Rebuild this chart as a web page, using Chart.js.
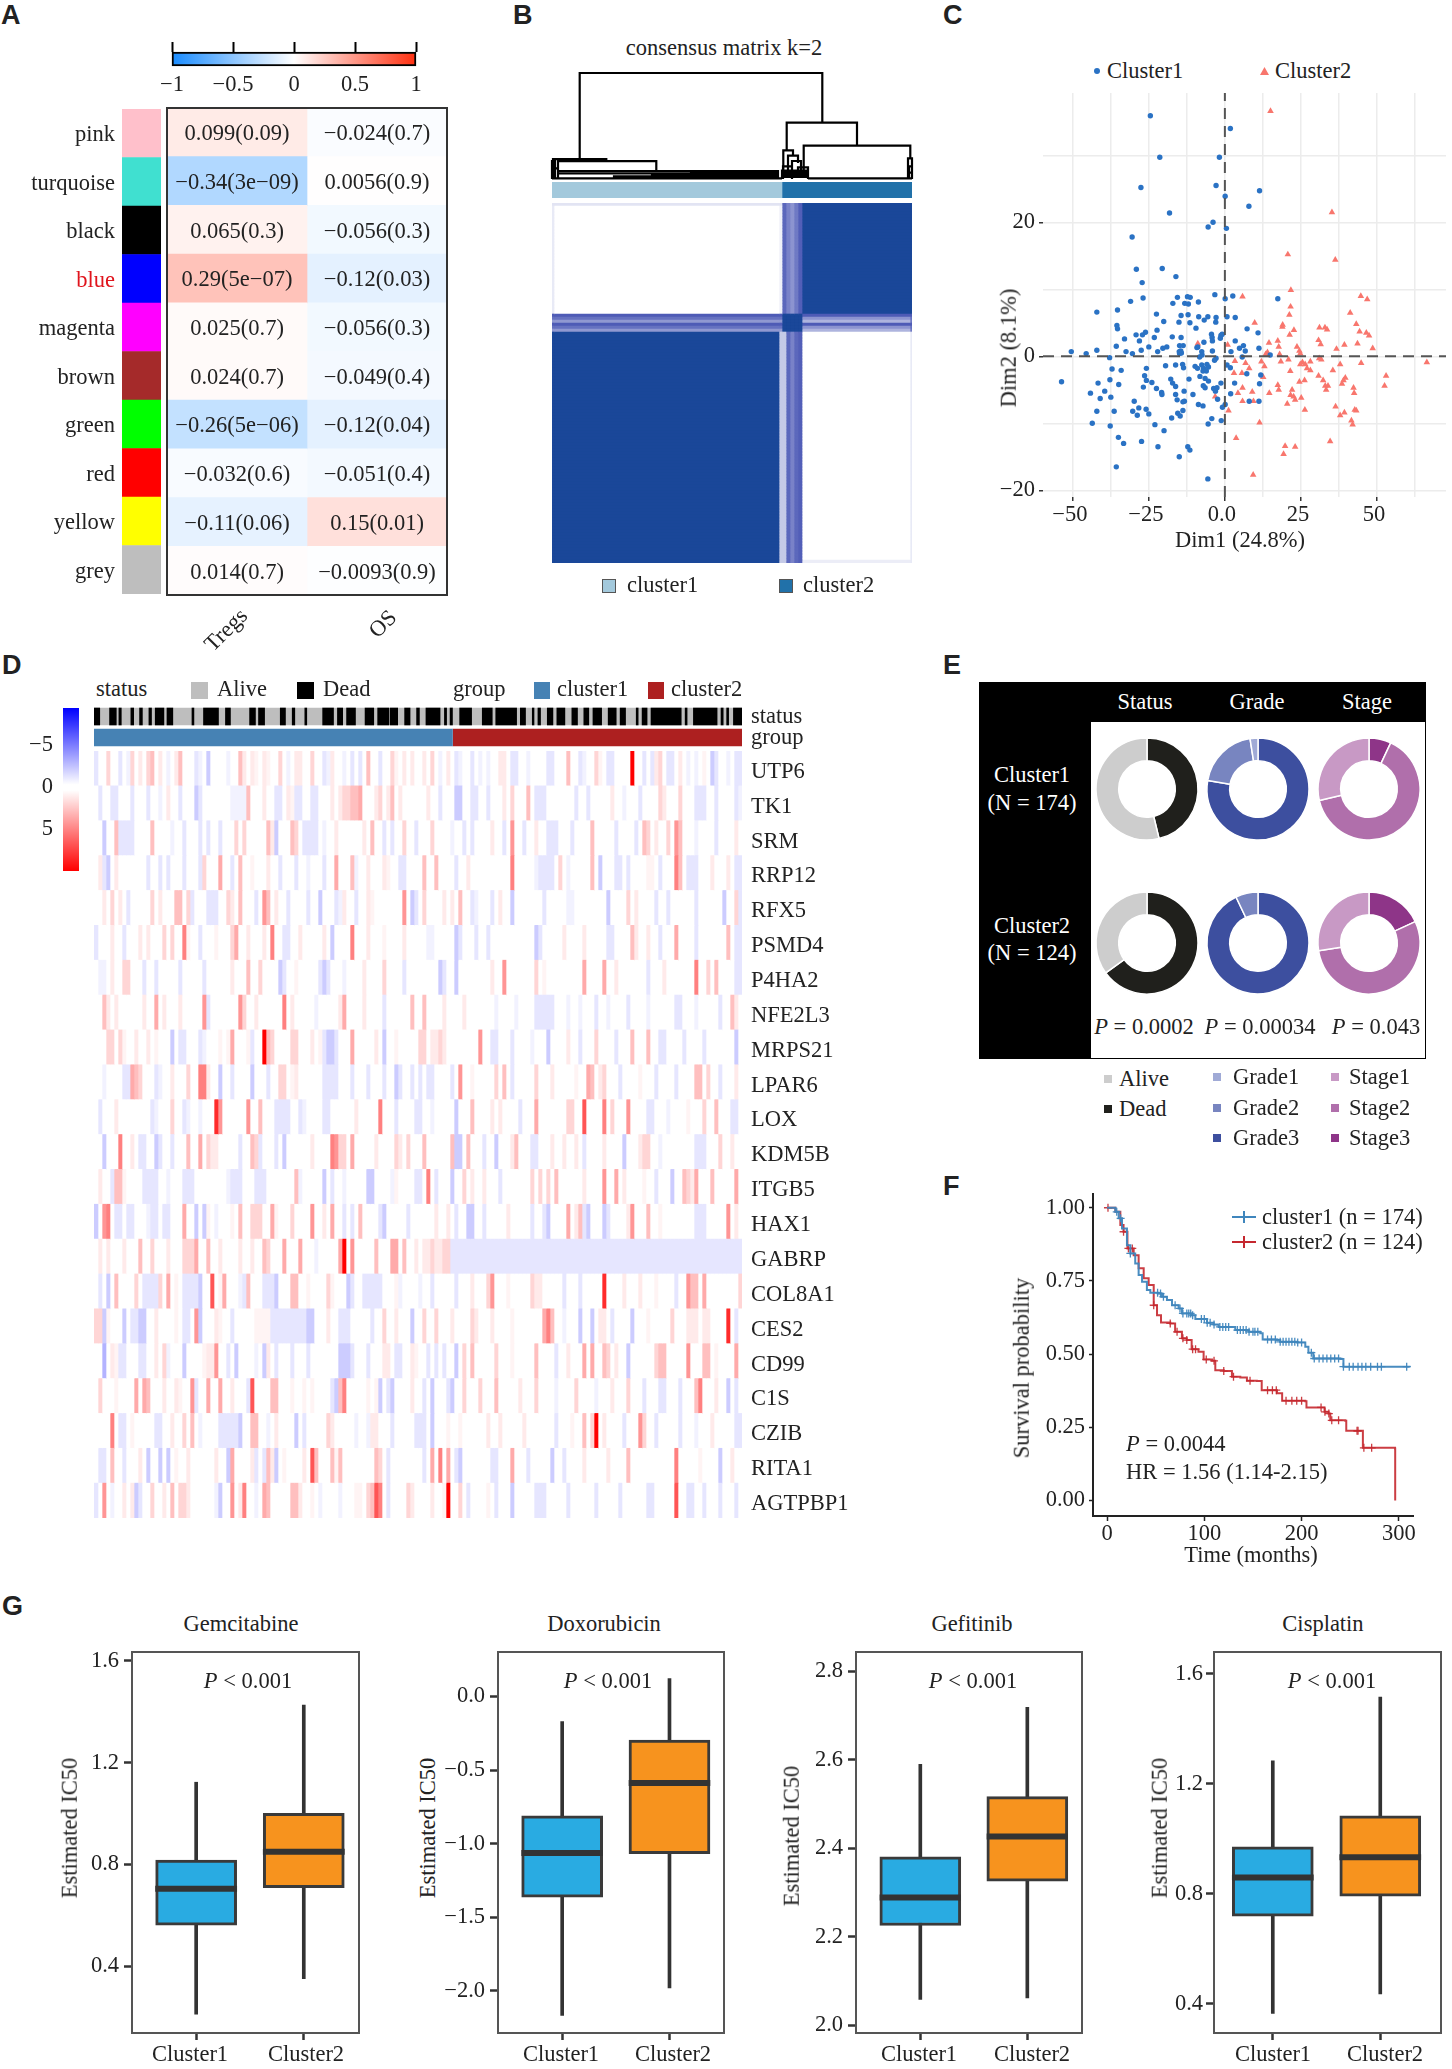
<!DOCTYPE html>
<html>
<head>
<meta charset="utf-8">
<title>Cluster figure</title>
<script src="https://cdn.jsdelivr.net/npm/chart.js@4"></script>
<style>
html,body{margin:0;background:#fff}
#page{position:relative;width:1452px;height:2069px;overflow:hidden;font-family:"Liberation Serif",serif;color:#222}
#page canvas{position:absolute}
.t{position:absolute;white-space:nowrap;line-height:1;font-size:22.5px}
.b{position:absolute}
</style>
</head>
<body>
<div id="page"></div>
<script>
// A: module-trait table
const modules = ["pink","turquoise","black","blue","magenta","brown","green","red","yellow","grey"];
const moduleColors = ["#ffc0cb","#40e0d0","#000000","#0000ff","#ff00ff","#a52a2a","#00ff00","#ff0000","#ffff00","#bebebe"];
const tregsCor = [0.099,-0.34,0.065,0.29,0.025,0.024,-0.26,-0.032,-0.11,0.014];
const osCor = [-0.024,0.0056,-0.056,-0.12,-0.056,-0.049,-0.12,-0.051,0.15,-0.0093];
const tregsText = ["0.099(0.09)","−0.34(3e−09)","0.065(0.3)","0.29(5e−07)","0.025(0.7)","0.024(0.7)","−0.26(5e−06)","−0.032(0.6)","−0.11(0.06)","0.014(0.7)"];
const osText = ["−0.024(0.7)","0.0056(0.9)","−0.056(0.3)","−0.12(0.03)","−0.056(0.3)","−0.049(0.4)","−0.12(0.04)","−0.051(0.4)","0.15(0.01)","−0.0093(0.9)"];
const corTicks = [-1,-0.5,0,0.5,1];

// B: consensus matrix (x in ordered samples, one row = 3 samples)
const consensusColWidths = [2,225,3,4,4,4,4,4,108,2];
const consensusTopEdge = [.15,.15,.15,.85,.7,.6,.75,.9,1,1];
const consensusTop = [.12,0,.08,.85,.7,.6,.75,.9,1,1];
const consensusBandDark = [.92,.92,.92,1,1,1,1,1,.92,.92];
const consensusBandMid = [.8,.8,.8,1,1,1,1,1,.6,.8];
const consensusBandPale = [.58,.58,.58,1,1,1,1,1,.42,.75];
const consensusBottom = [1,1,.3,.3,.85,.7,.85,.9,0,.12];
const consensusBottomEdge = [1,1,.3,.3,.85,.7,.85,.9,.1,.12];
const consensusRowRuns = [[consensusTopEdge,1],[consensusTop,36],[consensusBandDark,1],[consensusBandMid,1],[consensusBandPale,1],[consensusBandDark,1],[consensusBandMid,1],[consensusBandPale,1],[consensusBottom,76],[consensusBottomEdge,1]];
const consensusGroupWidths = [230,130];
// dendrogram joins: left x, right x, join height, left foot, right foot
const dendroJoins = [
  [27.7,270.3,1,.187,.532],[234.7,305,.532,.27,.315],[251.7,358.3,.315,.04,.195],[356,360,.195,.01,.01],
  [1,54.3,.187,.01,.18],[6,104.3,.169,.05,.075],[6,226,.075,.02,.01],[6,139,.052,.01,.03],[139,226,.06,.03,.01],
  [100,226,.045,.02,.02],[0,3,.17,0,0],[0,6,.1,0,0],[0,230,.006,0,0],[62,226,.025,0,0],
  [231.3,241,.27,.05,.22],[236,246,.22,.05,.15],[240,249,.17,.05,.09],[246,256,.11,.03,.03],[231,240,.12,0,0],
  [230,256,.08,0,0],[230,256,.06,0,0],[230,256,.04,0,0],[230,256,.02,0,0],[256,360,.006,0,0],[357,360,.12,0,0],[357,360,.06,0,0]
];

// C: PCA points, Dim1 / Dim2
const cluster1Points = [[-24.5,35.9],[1.8,34],[-21.4,29.7],[-1.8,29.7],[-27.6,25.2],[-2.9,25.5],[0.1,23.9],[11.4,24.7],[7.9,22.4],[-18.2,21.4],[-3.9,20],[-5.5,19.3],[0.5,19.1],[-30.5,17.8],[-29.1,13],[-20.6,13.1],[-16.1,11.9],[-27.2,11],[-31,8.2],[-26.9,8.7],[-15.6,8.8],[-12.3,8.9],[-11.4,8.8],[-8.7,8.1],[-3.3,9.2],[0.1,8.6],[2.6,9],[17.4,8.6],[-17.1,7.9],[-13.2,7.9],[-12,7.8],[-42.1,6.6],[-35.3,6.9],[-22.5,6.3],[-14.4,6.1],[-12.1,6.2],[-8.6,5.9],[-5.6,5.9],[-2.9,5.8],[0.7,5.9],[3.4,5.8],[-20.1,5.2],[-15.1,5.1],[-11.5,5],[-6.8,5.4],[-3,5.1],[-35.5,4.6],[-35.3,4.1],[-22.3,3.9],[-9.5,4.2],[7.3,4.1],[10.9,3.5],[-26.1,3.6],[-29.2,3.2],[-27.1,3.2],[-23.2,2.8],[-17.3,2.9],[-14.4,2.8],[-33,2.6],[-28.1,2.3],[-4.4,3.3],[-4.2,2.8],[-1.3,3.1],[-0.9,3.3],[-1.5,2.7],[-6.9,2.1],[-4.1,2.3],[3.4,2.3],[-8.9,1.4],[-35.7,1.5],[-25,1.4],[-19.1,1.4],[-20.4,1.2],[-14.9,1.6],[-13.7,1.6],[6.1,1.6],[4.8,1.2],[-9.2,1.3],[11.2,1.2],[-42.1,0.9],[-50.5,0.7],[-27.5,0.9],[-32.5,0.7],[-30.4,0.4],[-22.1,0.7],[-14.7,0.6],[-14.5,0.8],[-14.9,0.4],[-14.3,0.5],[-15,0.7],[-7.6,0.7],[-4.1,0.8],[-7.5,0.2],[2,0.7],[6.7,0.8],[-45.6,0.4],[-37.9,-0.2],[-8.3,-0.1],[-2.9,-0.3],[14.9,0.2],[5.7,-0.1],[-3.4,-0.6],[-37.1,-1.9],[-34.1,-2.1],[-25.8,-1.8],[-19.5,-1.4],[-16.2,-1.3],[-13.9,-1.2],[-13.6,-1.7],[-9.8,-1.5],[-9,-1.8],[-7.6,-1.3],[-7,-1.8],[-5.9,-1.2],[-5.4,-1.6],[-6.1,-2.2],[-7.2,-2.2],[0.7,-1.3],[1.8,-1.7],[7.2,-2.6],[11.8,-2.8],[-26.4,-2.9],[-37.8,-3.5],[-41.7,-4],[-53.7,-3.8],[-34.9,-4.2],[-25.8,-3.6],[-24,-3.9],[-17.8,-3.4],[-17.2,-4],[-11.8,-3.4],[-8.2,-3],[-6.5,-3.3],[-5.4,-3.7],[-7.1,-4.4],[-6.5,-4.7],[-1.3,-4],[3.2,-4],[11.4,-4.1],[-26.8,-4.6],[-22.5,-4.8],[-20.8,-5.4],[-20.7,-5.7],[-16.2,-4.5],[-13.4,-5.2],[-16.2,-5.7],[-10.5,-5.7],[-3.7,-4.8],[-2.6,-4.7],[-3.1,-5.2],[1.9,-5.6],[-39.5,-5.2],[-44.2,-5.5],[-41,-6.3],[-37.5,-6.1],[-29.8,-6.7],[-15.7,-6.5],[-13.8,-6.8],[-13.3,-6.7],[-2.4,-6.4],[8,-6.7],[11.2,-6.7],[-42.1,-8.2],[-36.4,-8.2],[-28.3,-7.7],[-30.3,-8.2],[-25.9,-7.9],[-25,-8.6],[-28.8,-8.8],[-8.7,-7.2],[-7.2,-7.4],[0.1,-7.2],[-0.8,-7.6],[-13.8,-8.1],[-15.5,-8.5],[-14.7,-8.9],[-17.5,-9.2],[-4.3,-9.3],[-1.2,-9.6],[-5.5,-10.1],[-43.6,-10],[-37.7,-10.4],[-23,-10.2],[-20,-11.1],[-35,-12.1],[-27.4,-12.7],[-33.3,-13],[-22,-13.5],[-12.2,-13.5],[-11.5,-14],[-15,-15],[-35.7,-16.5],[-5.6,-18.3]];
const cluster2Points = [[15,36.6],[35.2,21.5],[20.7,15.2],[36.3,14.4],[21.7,9.9],[5.8,8.9],[44.7,9],[46.8,8.5],[21.6,7.4],[21.2,6.2],[41.2,6.5],[9.8,5],[19,4.7],[18.9,4.4],[43.2,4.8],[31.1,4.3],[32.9,4.3],[33.6,4],[22.7,3.9],[44.3,3.7],[46.5,3.5],[47.4,3.1],[21.3,3.2],[30.8,2.4],[31.5,1.8],[17.4,2.3],[14.5,2],[43.6,1.9],[39.3,1.7],[-8.9,1.9],[0.9,1.7],[17.7,1.4],[23.7,1.4],[36.7,1.1],[48.6,1.2],[24.5,0.8],[24.8,0.4],[14,0.6],[13.4,0.3],[18,0.3],[31,-0.3],[31.7,-0.5],[20.9,-0.5],[18.4,-0.8],[66.4,-0.9],[44.8,-1],[3.3,-0.7],[12,-0.8],[6.8,-1],[25.5,-0.9],[24.8,-1.2],[26.4,-1.2],[28.1,-0.8],[37.9,-1.2],[13,-1.5],[8,-1.8],[27,-1.8],[28.1,-2.1],[35.5,-2.1],[21.5,-2.2],[3,-2.5],[5.6,-2.5],[12.6,-3.1],[30.8,-2.9],[32.3,-3.6],[53,-2.9],[39.6,-3.2],[39,-3.6],[24.5,-3.8],[26.2,-3.6],[38.5,-4.1],[33,-4.4],[33.9,-4.4],[33.3,-5],[52.5,-4.4],[5.8,-4.7],[17.4,-4.3],[17.7,-5],[22.1,-5],[42.3,-4.7],[42.5,-5.5],[9,-5.3],[4.3,-5.5],[14.6,-5.5],[21.6,-5.8],[22.6,-6],[25.1,-6.2],[23.1,-6.5],[-3.2,-6],[5.8,-6.7],[9.4,-6.7],[20.5,-7.1],[36.4,-7.5],[26.3,-8],[42.7,-8],[43.2,-8.1],[1.2,-8.1],[39.3,-8.4],[37.9,-8.8],[41.6,-9.6],[42,-10.2],[11.4,-9.9],[3.7,-12.2],[34.6,-12.7],[19.8,-13.4],[23.1,-13.5],[19.3,-14.6],[9.3,-17.7]];
const dim1Ticks = [-50,-37.5,-25,-12.5,0,12.5,25,37.5,50,62.5];
const dim2Ticks = [30,20,10,0,-10,-20];

// D: heatmap, rows as (column, value) pairs; cells not listed read as 0
const genes = ["UTP6","TK1","SRM","RRP12","RFX5","PSMD4","P4HA2","NFE2L3","MRPS21","LPAR6","LOX","KDM5B","ITGB5","HAX1","GABRP","COL8A1","CES2","CD99","C1S","CZIB","RITA1","AGTPBP1"];
const heatUTP6 = [0,-1,3,2,6,-1,8,-.5,9,2,11,1,13,2,14,3,16,1,18,-.5,20,1,21,3,25,-1,26,-.5,28,-2,33,-.5,36,3,37,1,39,1,40,.5,42,1,43,.5,46,2,48,-.5,50,1,51,1,54,2,57,-1,58,-.5,59,1,62,-.5,64,-1,66,-1,68,3,71,-1,74,2,75,.5,77,1,79,1,82,1,84,2,86,-.5,88,1,90,-1,91,-.5,94,-1,96,-.5,98,-.5,101,1,102,1,104,-1,105,-1,108,-.5,113,-1,114,-1,118,3,121,-1,122,-.5,125,2,126,.5,128,-1,129,-1,134,9,137,-1,139,-1,140,1,141,2,143,-1,144,-1,146,1,148,-.5,150,-.5,152,.5,154,-2,155,-1,158,-.5,160,-1,161,-1];
const heatTK1 = [1,-1,4,-1,5,-1,9,-1,13,-1,16,-.5,18,1,21,-1,25,-2,26,-1,34,-.5,35,-.5,36,-.5,37,-.5,38,3,42,1,45,-1,46,-1,48,1,49,.5,50,-1,51,-1,54,-1,55,-1,59,1,61,1,62,2,63,2,64,3,65,3,66,4,70,1,71,2,73,1,74,3,76,1,83,1,86,-1,90,-2,91,-2,94,-1,95,-1,98,-1,102,1,104,2,108,3,110,-1,111,-1,112,-1,120,-1,123,-1,129,1,132,-.5,136,-1,141,2,142,1,146,2,150,-1,151,-1,152,-1,155,-1,160,-1,161,-.5];
const heatSRM = [2,-2,5,3,6,-1,7,-1,8,-1,9,-1,14,3,19,-.5,22,-1,26,-1,28,-1,31,-1,35,2,37,2,43,3,44,1,45,-2,49,3,50,2,52,-1,53,-1,54,-1,55,-1,57,-.5,60,1,67,1,69,3,72,-1,74,-1,77,2,80,-1,84,2,89,-.5,92,-1,94,-1,99,1,102,-1,104,5,107,-1,110,1,113,-1,114,-1,115,-1,119,-1,124,3,130,-1,135,-1,137,3,138,2,140,1,143,2,145,5,146,3,150,-.5,155,-1,160,1];
const heatRRP12 = [1,1,2,-1,3,-2,5,1,13,-1,16,-1,18,-1,22,-1,26,-1,27,2,31,4,34,-1,36,3,39,.5,43,1,46,-1,50,-1,53,-.5,57,-1,60,4,64,3,65,-.5,68,1,72,1,73,.5,76,-1,77,-1,82,3,85,3,90,-1,93,1,104,6,110,-.5,111,-1,112,-1,113,-1,114,-1,116,2,118,-.5,124,3,126,-2,130,-1,131,-1,133,-1,138,.5,139,.5,141,-1,145,6,146,3,148,-1,149,-1,150,-1,154,1,158,1,160,-1,161,-1];
const heatRFX5 = [2,1,4,2,6,1,8,-1,14,2,16,1,20,3,21,3,23,2,24,-1,28,-1,29,-1,30,-1,33,2,34,1,36,3,40,-1,42,5,43,3,45,1,48,-1,53,-1,56,-2,60,-1,61,-.5,62,1,65,-1,68,1,69,.5,77,5,79,-2,80,-1,82,2,87,1,89,1,91,3,94,-1,95,-.5,99,-1,101,1,104,-2,112,-1,118,-.5,119,-.5,128,-2,133,2,135,1,140,-1,143,-1,150,-1,157,-2,160,2,161,-1];
const heatPSMD4 = [0,-1,4,1,7,-1,11,1,13,1,17,2,19,2,22,6,23,.5,26,-1,30,.5,34,2,35,4,38,1,42,1,44,6,47,-1,48,-1,51,1,57,1,59,-2,64,6,68,1,72,.5,77,1,83,-.5,84,-.5,90,-2,91,-1,95,-1,98,-1,110,-2,111,-1,117,1,122,1,128,-1,129,-1,134,3,135,1,138,1,141,-1,145,4,150,-1,158,3,160,-1,161,-1];
const heatP4HA2 = [1,-.5,2,-.5,4,1,7,2,8,2,12,-1,15,-1,21,-1,27,-1,34,1,38,3,41,2,46,-2,47,-1,50,.5,56,-1,57,-2,58,-1,62,-.5,67,1,72,2,77,-1,86,-2,87,-1,90,-2,99,1,102,5,110,2,112,.5,122,4,127,4,130,1,138,-1,142,1,150,6,153,2,155,3,160,-1,161,-1];
const heatNFE2L3 = [2,3,3,1,5,1,12,1,15,4,17,1,21,1,27,5,28,-1,36,5,37,2,40,1,47,6,49,1,55,-.5,61,1,62,4,67,1,72,-1,79,3,82,3,87,1,92,1,100,-.5,105,-.5,110,-1,111,-1,112,-1,113,-1,114,-1,118,-.5,121,-.5,125,-1,128,-.5,133,-1,138,-.5,145,-1,146,-1,150,-.5,156,-1,159,3,160,1];
const heatMRPS21 = [3,2,4,2,6,2,7,.5,10,1,13,1,15,.5,19,-2,21,-1,22,-1,26,-1,27,-.5,31,.5,33,.5,34,4,38,.5,39,-1,42,9,43,3,44,2,49,2,50,2,54,1,56,.5,57,-1,58,-2,59,-2,60,-1,64,4,70,1,72,-2,75,.5,81,2,82,2,84,1,85,1,86,2,87,1,96,5,99,-1,100,-1,104,-1,109,-.5,113,-2,118,1,121,-1,125,2,130,-1,134,3,138,3,141,-1,142,-1,147,-1,152,-1,160,-2];
const heatLPAR6 = [2,-.5,7,-1,8,-1,9,4,10,3,11,2,15,-1,16,-.5,19,1,23,2,26,6,27,6,28,1,31,-2,34,-1,39,-2,43,-1,46,2,47,2,49,.5,50,1,57,-1,58,-1,59,-1,60,-1,64,-1,68,-1,72,-1,75,-2,76,-1,79,-1,81,-1,83,-1,84,-1,89,-1,91,5,94,.5,100,2,102,3,104,-1,110,2,114,1,120,.5,123,4,124,3,126,1,127,2,131,-1,136,.5,140,-1,145,-1,150,3,151,3,153,2,156,-1,160,1];
const heatLOX = [1,-1,5,1,14,-1,15,-.5,19,2,22,-1,23,-.5,26,-.5,30,8,31,5,38,5,41,3,45,-1,46,-1,47,-1,48,-1,51,-1,52,-.5,57,-1,58,-1,65,1,71,6,75,-1,80,-1,81,-1,84,-.5,90,-2,94,3,99,1,101,1,106,-1,110,4,118,2,119,2,122,7,127,6,129,2,133,5,138,-1,139,-1,143,-.5,148,.5,152,2,155,3,159,-1,160,-1];
const heatKDM5B = [2,-2,6,6,9,1,11,-1,12,-1,15,-2,16,-1,19,-1,23,3,26,4,28,2,29,1,30,1,36,-1,39,3,40,2,41,-1,45,-1,47,-2,54,1,59,6,60,5,61,2,62,2,64,4,70,1,75,2,76,1,78,2,82,3,89,3,90,-2,91,-2,93,3,97,-1,100,-2,104,1,105,3,109,-1,110,-1,114,1,117,1,120,1,122,-1,127,1,132,-2,136,1,137,2,138,2,141,-.5,150,-1,151,-1,152,-1,156,2,159,1];
const heatITGB5 = [1,1,4,-1,5,3,6,3,7,.5,12,-1,13,-1,14,-1,15,-1,18,-.5,22,-1,23,-1,24,-1,33,-.5,34,-1,35,-1,36,-1,40,-1,41,-1,42,-1,50,3,51,-.5,57,-2,59,-1,62,-.5,68,-2,69,-2,74,-.5,75,.5,80,-1,81,-1,83,6,85,-1,89,-2,92,2,94,1,97,1,101,-1,109,2,111,2,113,2,115,3,122,1,127,5,130,4,132,1,137,.5,140,-1,144,-2,147,3,148,2,149,1,150,4,154,3,160,4];
const heatHAX1 = [0,-2,2,5,3,6,5,-1,6,-1,8,-1,9,-1,13,-.5,14,-1,15,-1,17,-1,18,-1,22,4,25,-2,27,-2,28,.5,30,-.5,34,.5,36,3,39,2,40,2,41,2,44,4,45,.5,49,2,54,5,57,1,59,4,62,-1,64,-1,66,3,71,-1,72,-2,78,-1,85,1,88,1,90,-1,93,-2,94,-2,97,-1,103,1,109,-1,112,-1,113,-2,118,4,120,1,121,3,122,-1,123,-2,127,-2,128,-1,133,1,134,5,138,3,141,.5,150,-1,151,-1,152,-1,158,5,160,1];
const heatGABRP = [1,1,3,1,7,1,11,3,14,2,18,1,22,2,23,2,24,2,25,4,28,3,31,1,36,1,39,1,42,3,43,2,47,4,51,4,55,-.5,61,4,62,9,64,5,70,3,74,4,75,4,77,3,80,1,82,1,83,1,84,2,85,1,86,1,87,2,88,2];
const heatCOL8A1 = [1,-1,3,-2,5,3,10,2,12,-1,13,-1,14,-1,15,-1,16,2,18,4,20,.5,22,-1,23,-1,24,-1,25,-1,26,-2,29,7,31,.5,32,4,36,-.5,37,-1,38,3,42,-1,43,-1,44,-1,45,-2,49,3,50,3,53,.5,58,2,59,.5,63,-2,64,-1,67,-1,68,-1,69,-1,70,-1,71,-1,75,.5,76,-.5,81,-.5,84,-1,90,-1,94,1,98,2,99,5,103,.5,109,2,110,1,111,1,117,-1,121,-1,127,8,132,1,136,1,140,.5,145,-1,148,5,149,3,150,3,152,4,161,2];
const heatCES2 = [0,2,1,2,2,-2,3,.5,7,-2,9,-1,10,-1,11,-2,12,-2,15,1,20,.5,22,-1,23,-1,25,5,26,-2,30,1,31,.5,34,-1,40,.5,41,.5,42,.5,43,.5,44,-1,45,-1,46,-1,47,-1,48,-1,49,-1,50,-1,51,-1,52,-1,53,-2,54,-2,58,1,61,-1,62,-1,63,-1,69,-1,72,2,75,1,79,-2,82,2,85,2,89,1,94,2,95,1,99,1,104,.5,112,4,113,6,114,3,117,-.5,121,-2,124,-2,126,1,127,1,129,-1,134,-2,138,.5,144,2,148,1,149,1,150,1,152,1,153,1,158,8,160,-1];
const heatCD99 = [2,-3,4,1,5,.5,6,-1,7,-1,11,-1,12,-1,15,1,17,2,18,-.5,22,-2,27,.5,28,1,29,1,30,5,33,-1,35,-2,40,-.5,42,-2,43,1,45,-1,49,-1,53,-1,61,-2,62,-2,63,-2,64,-1,68,-1,72,1,73,1,75,-1,76,-1,79,1,80,.5,83,-1,85,-1,87,-1,90,-2,92,2,94,3,100,2,104,.5,110,3,115,-1,118,1,122,4,124,4,127,3,128,2,130,1,133,-2,140,2,141,3,142,3,148,5,152,3,153,3,155,.5,160,4];
const heatC1S = [1,2,5,.5,10,4,12,4,13,3,17,1,20,1,21,.5,24,5,25,-1,28,4,31,4,34,1,38,-1,39,7,44,3,45,3,49,.5,52,.5,54,.5,59,-1,60,-2,61,3,62,6,68,.5,70,.5,71,-2,73,-1,74,-2,79,1,82,-1,84,-2,88,-1,89,-2,92,2,96,2,100,3,106,1,110,2,115,-.5,120,2,125,-.5,129,1,133,2,137,-1,141,-1,142,-1,146,-1,150,3,151,6,155,1,158,-2,160,-1];
const heatCZIB = [4,6,6,-1,7,-1,9,.5,15,-1,16,-1,19,1,22,2,24,3,26,-.5,31,-1,32,-1,33,-1,34,-1,35,-1,36,-2,39,3,40,3,43,-.5,45,1,50,-2,52,-1,58,2,59,1,65,-.5,68,-.5,69,1,70,1,74,-1,80,-1,81,-1,82,-1,84,-2,88,.5,91,.5,98,1,101,1,107,1,115,-1,119,.5,122,3,124,2,125,9,127,1,132,-1,136,5,137,2,140,-1,146,-1,150,-.5,154,1,160,-1,161,-1];
const heatRITA1 = [1,-1,2,-1,4,3,7,-1,11,1,13,-2,16,-2,18,-2,20,.5,23,1,30,1,33,-2,34,4,39,1,40,-1,42,-1,43,3,44,1,45,-2,47,.5,52,1,54,7,55,3,59,3,60,.5,61,3,70,3,71,2,73,-1,82,-1,84,4,86,6,88,4,90,-1,91,-2,99,-1,100,-1,104,4,108,-1,114,-2,117,-1,122,1,128,1,133,3,145,6,151,.5,156,-2,159,1];
const heatAGTPBP1 = [0,-1,2,5,4,-.5,7,1,9,1,10,-2,11,-1,14,2,17,1,19,3,21,2,22,2,23,1,30,-.5,31,-2,34,5,36,1,37,6,40,-.5,42,4,43,3,49,3,50,3,51,1,54,.5,56,-.5,61,-.5,65,.5,66,.5,68,2,69,3,70,7,71,6,73,-1,78,2,79,1,84,1,87,.5,88,9,91,2,93,-1,98,.5,100,-1,104,-2,110,-1,111,-1,112,-1,118,-1,125,-1,131,-1,138,-1,139,-1,145,7,148,-1,149,-1,152,-1,156,-1,160,-1];
const heatRows = [heatUTP6,heatTK1,heatSRM,heatRRP12,heatRFX5,heatPSMD4,heatP4HA2,heatNFE2L3,heatMRPS21,heatLPAR6,heatLOX,heatKDM5B,heatITGB5,heatHAX1,heatGABRP,heatCOL8A1,heatCES2,heatCD99,heatC1S,heatCZIB,heatRITA1,heatAGTPBP1];
const heatColumns = 162;
// GABRP reads as one flat pale value across cluster2: row, from, to, value
const heatFlatRuns = [[14,89,162,-1]];
const sampleCount = 298;
const clusterSplit = 165;
const deadRuns = [[0,2.8],[7,10.4],[11.3,12.7],[16.8,18.4],[20.8,22.4],[25.1,26.6],[28,32.3],[33.4,36.4],[44.9,46.1],[50.2,57.4],[60.3,62.9],[71.4,74.4],[75.5,78.6],[85.5,88.2],[91,92.5],[96.8,98],[105,110.3],[111.8,114.5],[116,120.4],[124.5,128.8],[130.3,135.7],[136,139.8],[142.7,145.5],[148.2,149.8],[152.5,159.3],[161,162.3],[163.6,165],[168,173.8],[178.4,183.3],[184.6,194.5],[195.9,198.6],[201.4,202.5],[204,205.5],[208.3,211.2],[212.7,216.7],[219.6,222.5],[225.1,227.7],[229.3,233.6],[236.3,240.3],[241.8,244.6],[249.2,250.4],[251.9,254.5],[256,270.2],[271.7,272.9],[275.5,286.7],[288.2,289.5],[290.8,292],[293.9,298]];
const heatLegendTicks = [-5,0,5];

// E: donut shares in percent, clockwise from the top
const statusC1 = [46.2,53.8], statusC2 = [65,35];
const gradeC1 = [77.7,19.8,2.5], gradeC2 = [92.9,7.1,0];
const stageC1 = [7,64.4,28.6], stageC2 = [18.1,54.5,27.4];
const statusColors = ["#20201c","#cdcdcd"];
const gradeColors = ["#3d4f9f","#7885c0","#a0aad6"];
const stageColors = ["#8e3588","#b06fab","#c899c5"];

// F: survival curves
const c1Time = [0,8.6,12,15.4,20.5,24,29,32.5,36,41,44.5,53,56.5,61.6,66.8,73.6,77,87,90.8,97.6,102.7,109.6,114.7,125,131.8,145.5,157.5,160,174.7,178,195,203.8,207,212,239.7,243,311];
const c1Surv = [1,.986,.964,.929,.872,.844,.81,.77,.747,.719,.71,.707,.696,.685,.667,.656,.639,.633,.62,.62,.607,.601,.593,.593,.582,.576,.571,.55,.548,.542,.54,.525,.505,.485,.483,.457,.455];
const c2Time = [0,8.6,13.7,17,21,27.4,32.5,37.7,42.8,48,51.4,55.5,65,70,77,82,87,94,99.3,108,111.3,120,128.4,137,143.8,154,159,174.7,180,203.8,205,219,223.6,227.7,229.5,244.9,245.9,262,263,296,296.2];
const c2Surv = [1,.986,.941,.918,.861,.838,.793,.759,.736,.667,.633,.608,.605,.576,.554,.548,.517,.508,.482,.477,.445,.442,.423,.42,.409,.408,.377,.366,.341,.339,.318,.318,.303,.297,.274,.272,.238,.238,.18,.178,0];
const c1Censor = [10,14,24,52,55,58,70,75,78,82,84,86,88,97,100,103,106,110,116,119,122,125,134,137,140,143,146,150,152,155,165,169,173,178,181,184,187,190,193,196,200,210,213,218,222,226,230,234,238,243,249,253,258,262,266,271,278,282,308];
const c2Censor = [1,17,22,26,48,65,72,78,82,88,91,102,110,120,130,147,165,170,174,184,190,195,200,220,224,228,231,238,257,258,264,272];
const timeTicks = [0,100,200,300];
const survTicks = [0,.25,.5,.75,1];

// G: drug boxes, [Cluster1, Cluster2]
const drugs = ["Gemcitabine","Doxorubicin","Gefitinib","Cisplatin"];
const boxLabels = ["Cluster1","Cluster2"];
const drugLow = [[.211,.351],[-2.166,-1.98],[2.059,2.062],[.365,.436]];
const drugQ1 = [[.561,.708],[-1.363,-1.068],[2.226,2.326],[.719,.792]];
const drugMedian = [[.704,.85],[-1.063,-.587],[2.289,2.427],[.86,.933]];
const drugQ3 = [[.817,1.001],[-.81,-.297],[2.381,2.517],[.971,1.084]];
const drugHigh = [[1.123,1.426],[-.17,.122],[2.59,2.719],[1.284,1.516]];
const drugTicks = [[.4,.8,1.2,1.6],[-2,-1.5,-1,-.5,0],[2,2.2,2.4,2.6,2.8],[.4,.8,1.2,1.6]];
const drugRange = [[.137,1.635],[-2.286,.302],[1.983,2.844],[.294,1.68]];

// page helpers
const page = document.getElementById("page");
Chart.defaults.animation = false;
Chart.defaults.events = [];
Chart.defaults.font.family = '"Liberation Serif", serif';
Chart.defaults.font.size = 22.5;
Chart.defaults.color = "#222";
Chart.defaults.plugins.legend.display = false;
Chart.defaults.plugins.tooltip.enabled = false;

function text(x, y, html, o={}){
  const d = document.createElement("div");
  d.className = "t";
  d.innerHTML = html;
  const tx = o.align==="l" ? "0" : o.align==="r" ? "-100%" : "-50%";
  d.style.left = x+"px";
  d.style.top = y+"px";
  d.style.transform = `translate(${tx},-50%)` + (o.rot ? ` rotate(${o.rot}deg)` : "");
  if(o.color) d.style.color = o.color;
  if(o.css) d.style.cssText += o.css;
  page.appendChild(d);
}
function rect(x, y, w, h, color, css=""){
  const d = document.createElement("div");
  d.className = "b";
  d.style.cssText = `left:${x}px;top:${y}px;width:${w}px;height:${h}px;background:${color};${css}`;
  page.appendChild(d);
}
// plot = [x0,y0,x1,y1] of the chart area, m = [left,top,right,bottom] room around it
function mk(plot, m, config){
  const [x0,y0,x1,y1] = plot, [l,t,r,b] = m;
  const c = document.createElement("canvas");
  c.width = x1-x0+l+r;
  c.height = y1-y0+t+b;
  c.style.left = (x0-l)+"px";
  c.style.top = (y0-t)+"px";
  page.appendChild(c);
  const opts = config.options = config.options || {};
  opts.responsive = false;
  const sides = {left:l,top:t,right:r,bottom:b}, used = {};
  Object.entries(opts.scales||{}).forEach(([id,s])=>{
    if(s.display===false) return;
    const side = s.position || (id[0]==="x" ? "bottom" : "left");
    used[side] = 1;
    s.afterFit = sc=>{
      if(side==="left"||side==="right") sc.width = sides[side];
      else sc.height = sides[side];
      // keep the chart area where it was asked for
      sc.paddingLeft = sc.paddingRight = sc.paddingTop = sc.paddingBottom = 0;
    };
  });
  opts.layout = {padding:{left:used.left?0:l,top:used.top?0:t,right:used.right?0:r,bottom:used.bottom?0:b}};
  return new Chart(c, config);
}
const framePlugin = {
  id:"frame",
  afterDatasetsDraw(chart, args, o){
    const a = chart.chartArea, ctx = chart.ctx;
    ctx.save();
    ctx.strokeStyle = o.color || "#333";
    ctx.lineWidth = o.width || 2;
    ctx.strokeRect(a.left, a.top, a.right-a.left, a.bottom-a.top);
    ctx.restore();
  }
};
function mix(from, to, t){
  const p = s=>[1,3,5].map(i=>parseInt(s.substr(i,2),16));
  const a = p(from), b = p(to);
  return `rgb(${a.map((v,i)=>Math.round(v+(b[i]-v)*t)).join(",")})`;
}
const corColor = v=> v<0 ? mix("#ffffff","#1a8cff",-v) : mix("#ffffff","#ff3010",v);
const heatColor = v=>{
  if(v<0) return mix("#ffffff","#0000ff",Math.min(-v/10,1));
  const t = v<=6 ? v/12 : .5+(v-6)/6;
  return mix("#ffffff","#ff0000",Math.min(t,1));
};
const consensusColor = v=> v>=1 ? "#1a4799" : mix("#ffffff","#3f4db0",v);
const minus = s=>String(s).replace("-","−");
const setTicks = vals=> s=>{ s.ticks = vals.map(value=>({value})); };
function hGradient(chart, stops, vertical){
  const a = chart.chartArea;
  if(!a) return stops[0][1];
  const g = vertical ? chart.ctx.createLinearGradient(0,a.top,0,a.bottom) : chart.ctx.createLinearGradient(a.left,0,a.right,0);
  stops.forEach(s=>g.addColorStop(s[0],s[1]));
  return g;
}

// panel letters
[["A",1,15],["B",513,15],["C",943,15],["D",2,665],["E",943,665],["F",943,1186],["G",2,1606]].forEach(p=>{
  text(p[1],p[2],p[0],{align:"l",css:'font:bold 27px "Liberation Sans",sans-serif;'});
});

// ---- A
mk([172,52,416,66],[24,12,20,36],{
  type:"bar",
  data:{labels:[""],datasets:[{data:[[-1,1]],clip:false,borderColor:"#000",borderWidth:2,borderSkipped:false,barPercentage:1,categoryPercentage:1,
    backgroundColor:c=>hGradient(c.chart,[[0,"#1a8cff"],[.5,"#ffffff"],[1,"#ff3010"]])}]},
  options:{indexAxis:"y",scales:{
    x:{min:-1,max:1,afterBuildTicks:setTicks(corTicks),grid:{drawOnChartArea:false,drawTicks:false},border:{display:false},
       ticks:{padding:6,autoSkip:false,maxRotation:0,callback:v=>minus(v)}},
    x2:{axis:"x",position:"top",min:-1,max:1,afterBuildTicks:setTicks(corTicks),ticks:{display:false},border:{display:false},
       grid:{drawOnChartArea:false,tickLength:10,tickWidth:2,tickColor:"#000"}},
    y:{display:false}
  }}
});
mk([122,109,161,594],[120,16,2,16],{
  type:"bar",
  data:{labels:modules,datasets:[{data:modules.map(()=>1),backgroundColor:moduleColors,barPercentage:1,categoryPercentage:1}]},
  options:{indexAxis:"y",scales:{
    x:{display:false,min:0,max:1},
    y:{grid:{display:false,drawTicks:false},border:{display:false},ticks:{padding:7,labelOffset:2,autoSkip:false,color:c=>modules[c.index]==="blue"?"#e0141c":"#222"}}
  }}
});
const cellLabels = [tregsText,osText];
mk([167,108,447,595],[2,16,2,16],{
  type:"bar",
  data:{labels:modules,datasets:[
    {data:modules.map(()=>1),backgroundColor:tregsCor.map(corColor),barPercentage:1,categoryPercentage:1},
    {data:modules.map(()=>1),backgroundColor:osCor.map(corColor),barPercentage:1,categoryPercentage:1}
  ]},
  options:{indexAxis:"y",plugins:{frame:{color:"#333",width:2}},scales:{
    x:{display:false,stacked:true,min:0,max:2},
    y:{display:false,stacked:true}
  }},
  plugins:[framePlugin,{id:"cellText",afterDatasetsDraw(chart){
    const ctx = chart.ctx;
    ctx.save();
    ctx.fillStyle = "#222";
    ctx.font = '22.5px "Liberation Serif"';
    ctx.textAlign = "center";
    ctx.textBaseline = "middle";
    chart.data.datasets.forEach((d,di)=>{
      chart.getDatasetMeta(di).data.forEach((el,i)=>ctx.fillText(cellLabels[di][i],(el.x+el.base)/2,el.y+2));
    });
    ctx.restore();
  }}]
});
text(226,630,"Tregs",{rot:-45});
text(383,624,"OS",{rot:-45});

// ---- B
text(724,48,"consensus matrix k=2");
const dendroLine = [];
dendroJoins.forEach(j=>{
  dendroLine.push({x:j[0],y:j[3]},{x:j[0],y:j[2]},{x:j[1],y:j[2]},{x:j[1],y:j[4]},{x:NaN,y:NaN});
});
mk([552,73,912,179],[4,4,4,4],{
  type:"scatter",
  data:{datasets:[{data:dendroLine,showLine:true,spanGaps:false,clip:false,borderColor:"#000",borderWidth:2.2,pointRadius:0}]},
  options:{scales:{x:{display:false,min:0,max:360},y:{display:false,min:0,max:1}}}
});
mk([552,182,912,198],[2,2,2,2],{
  type:"bar",
  data:{labels:[""],datasets:[
    {data:[consensusGroupWidths[0]],backgroundColor:"#a3c9dc",barPercentage:1,categoryPercentage:1},
    {data:[consensusGroupWidths[1]],backgroundColor:"#2171a9",barPercentage:1,categoryPercentage:1}
  ]},
  options:{indexAxis:"y",scales:{x:{display:false,stacked:true,min:0,max:360},y:{display:false,stacked:true}}}
});
const consensusRows = [];
consensusRowRuns.forEach(run=>{ for(let i=0;i<run[1];i++) consensusRows.push(run[0]); });
mk([552,203,912,563],[2,2,2,2],{
  type:"bar",
  data:{labels:consensusRows.map((r,i)=>i),datasets:consensusColWidths.map((w,c)=>({
    data:consensusRows.map(()=>w),
    backgroundColor:consensusRows.map(r=>consensusColor(r[c])),
    barPercentage:1,categoryPercentage:1
  }))},
  options:{indexAxis:"y",scales:{x:{display:false,stacked:true,min:0,max:360},y:{display:false,stacked:true}}}
});
rect(602,579,12,12,"#a3c9dc","border:1px solid #555;");
text(627,585,"cluster1",{align:"l"});
rect(779,579,12,12,"#2171a9","border:1px solid #555;");
text(803,585,"cluster2",{align:"l"});

// ---- C
rect(1094,68,6,6,"#2a72c4","border-radius:50%;");
text(1107,71,"Cluster1",{align:"l"});
rect(1260,67,9,8,"#f8766d","clip-path:polygon(50% 0,100% 100%,0 100%);");
text(1275,71,"Cluster2",{align:"l"});
const toXY = p=>({x:p[0],y:p[1]});
const tickInk = major=> c=> major.includes(c.tick.value) ? "#333" : "rgba(0,0,0,0)";
mk([1043,93,1446,497],[90,16,6,36],{
  type:"scatter",
  data:{datasets:[
    {data:cluster1Points.map(toXY),backgroundColor:"#2a72c4",pointRadius:2.7,pointBorderWidth:0,order:2},
    {data:cluster2Points.map(toXY),backgroundColor:"#f8766d",pointStyle:"triangle",pointRadius:3.8,pointBorderWidth:0,order:3},
    {data:[{x:-59.8,y:0},{x:72.7,y:0}],showLine:true,borderColor:"#555",borderWidth:2,borderDash:[11,7],pointRadius:0,order:1},
    {data:[{x:0,y:-21},{x:0,y:39.3}],showLine:true,borderColor:"#555",borderWidth:2,borderDash:[11,7],pointRadius:0,order:1}
  ]},
  options:{scales:{
    x:{min:-59.8,max:72.7,afterBuildTicks:setTicks(dim1Ticks),border:{display:false},
       grid:{color:"#ececec",lineWidth:1.5,tickLength:4,tickWidth:1.5,tickColor:tickInk([-50,-25,0,25,50])},
       ticks:{padding:1,labelOffset:-3,autoSkip:false,maxRotation:0,callback:v=>v%25===0?(v===0?"0.0":minus(v)):""}},
    y:{min:-21,max:39.3,afterBuildTicks:setTicks(dim2Ticks),border:{display:false},
       grid:{color:"#ececec",lineWidth:1.5,tickLength:4,tickWidth:1.5,tickColor:tickInk([20,0,-20])},
       ticks:{padding:4,autoSkip:false,callback:v=>v%20===0?minus(v):""}}
  }}
});
text(1240,540,"Dim1 (24.8%)");
text(1009,348,"Dim2 (8.1%)",{rot:-90});

// ---- D
text(96,689,"status",{align:"l"});
rect(191,682,17,17,"#bebebe");
text(217,689,"Alive",{align:"l"});
rect(297,682,17,17,"#000");
text(323,689,"Dead",{align:"l"});
text(453,689,"group",{align:"l"});
rect(534,682,16,17,"#4682b4");
text(557,689,"cluster1",{align:"l"});
rect(648,682,16,17,"#ad2020");
text(671,689,"cluster2",{align:"l"});
mk([63,708,79,871],[50,16,4,16],{
  type:"bar",
  data:{labels:[""],datasets:[{data:[[-9.4,10]],barPercentage:1,categoryPercentage:1,
    backgroundColor:c=>hGradient(c.chart,[[0,"#0000ff"],[.47,"#ffffff"],[.505,"#ffffff"],[1,"#ff0000"]],true)}]},
  options:{scales:{
    x:{display:false},
    y:{min:-9.4,max:10,reverse:true,afterBuildTicks:setTicks(heatLegendTicks),grid:{display:false,drawTicks:false},border:{display:false},
       ticks:{padding:10,autoSkip:false,callback:v=>minus(v)}}
  }}
});
const annotationRows = ["status","group"];
mk([94,706,742,748],[2,16,112,16],{
  type:"bar",
  data:{labels:annotationRows,datasets:[
    {data:[[0,sampleCount],null],backgroundColor:"#bebebe",grouped:false,barPercentage:1,categoryPercentage:.84,order:2},
    {data:[null,[0,clusterSplit]],backgroundColor:"#4682b4",grouped:false,barPercentage:1,categoryPercentage:.84,order:2},
    {data:[null,[clusterSplit,sampleCount]],backgroundColor:"#ad2020",grouped:false,barPercentage:1,categoryPercentage:.84,order:2},
    ...deadRuns.map(r=>({data:[r,null],backgroundColor:"#000",grouped:false,barPercentage:1,categoryPercentage:.84,order:1}))
  ]},
  options:{indexAxis:"y",scales:{
    x:{display:false,min:0,max:sampleCount},
    y:{position:"right",grid:{display:false,drawTicks:false},border:{display:false},ticks:{padding:9,labelOffset:1,autoSkip:false}}
  }}
});
const heatValues = heatRows.map((row,r)=>{
  const cells = new Array(heatColumns).fill(0);
  heatFlatRuns.filter(f=>f[0]===r).forEach(f=>{ for(let c=f[1];c<f[2];c++) cells[c] = f[3]; });
  for(let i=0;i<row.length;i+=2) cells[row[i]] = row[i+1];
  return cells;
});
const heatDatasets = [];
for(let c=0;c<heatColumns;c++){
  heatDatasets.push({data:genes.map(()=>1),backgroundColor:heatValues.map(v=>heatColor(v[c])),barPercentage:1,categoryPercentage:1});
}
const heatChart = mk([94,751,742,1518],[2,16,112,16],{
  type:"bar",
  data:{labels:genes,datasets:heatDatasets},
  options:{indexAxis:"y",scales:{
    x:{display:false,stacked:true,min:0,max:heatColumns},
    y:{position:"right",stacked:true,grid:{display:false,drawTicks:false},border:{display:false},ticks:{padding:9,labelOffset:3.5,autoSkip:false}}
  }}
});
heatChart.canvas.style.filter = "blur(.5px)";

// ---- E
rect(979,682,447,377,"#000");
rect(1091,722,334,336,"#fff");
[["Status",1145],["Grade",1257],["Stage",1367]].forEach(h=>text(h[1],702,h[0],{color:"#fff"}));
text(1032,775,"Cluster1",{color:"#fff"});
text(1032,803,"(N = 174)",{color:"#fff"});
text(1032,926,"Cluster2",{color:"#fff"});
text(1032,953,"(N = 124)",{color:"#fff"});
function donut(cx, cy, values, colors){
  mk([cx-56,cy-56,cx+56,cy+56],[0,0,0,0],{
    type:"doughnut",
    data:{datasets:[{data:values,backgroundColor:colors,borderColor:"#fff",borderWidth:1.5,radius:51,cutout:"55.5%"}]},
    options:{}
  });
}
donut(1147,789,statusC1,statusColors);
donut(1258,789,gradeC1,gradeColors);
donut(1369,789,stageC1,stageColors);
donut(1147,943,statusC2,statusColors);
donut(1258,943,gradeC2,gradeColors);
donut(1369,943,stageC2,stageColors);
text(1144,1027,"<i>P</i> = 0.0002");
text(1260,1027,"<i>P</i> = 0.00034");
text(1376,1027,"<i>P</i> = 0.043");
[["Alive",1079,"#cdcdcd"],["Dead",1109,"#20201c"]].forEach(l=>{
  rect(1104,l[1]-4,8,8,l[2]);
  text(1119,l[1],l[0],{align:"l"});
});
[["Grade1",1077,"#a0aad6"],["Grade2",1108,"#7885c0"],["Grade3",1138,"#3d4f9f"]].forEach(l=>{
  rect(1213,l[1]-4,8,8,l[2]);
  text(1233,l[1],l[0],{align:"l"});
});
[["Stage1",1077,"#c899c5"],["Stage2",1108,"#b06fab"],["Stage3",1138,"#8e3588"]].forEach(l=>{
  rect(1331,l[1]-4,8,8,l[2]);
  text(1349,l[1],l[0],{align:"l"});
});

// ---- F
function stepAt(times, surv, t){
  let v = surv[0];
  times.forEach((x,i)=>{ if(x<=t) v = surv[i]; });
  return v;
}
const pairUp = (xs,ys)=>xs.map((x,i)=>({x,y:ys[i]}));
const kmBlue = "rgba(63,134,189,.95)", kmRed = "rgba(197,40,47,.9)";
mk([1093,1194,1413,1516],[80,16,20,36],{
  type:"scatter",
  data:{datasets:[
    {data:pairUp(c1Time,c1Surv),showLine:true,stepped:true,borderColor:kmBlue,borderWidth:2,pointRadius:0,clip:false},
    {data:c1Censor.map(t=>({x:t,y:stepAt(c1Time,c1Surv,t)})),pointStyle:"cross",pointRadius:4,pointBorderColor:kmBlue,pointBorderWidth:1.3,pointBackgroundColor:kmBlue},
    {data:pairUp(c2Time,c2Surv),showLine:true,stepped:true,borderColor:kmRed,borderWidth:2,pointRadius:0,clip:false},
    {data:c2Censor.map(t=>({x:t,y:stepAt(c2Time,c2Surv,t)})),pointStyle:"cross",pointRadius:4,pointBorderColor:kmRed,pointBorderWidth:1.3,pointBackgroundColor:kmRed}
  ]},
  options:{scales:{
    x:{min:-14.4,max:314.5,afterBuildTicks:setTicks(timeTicks),border:{color:"#222",width:2},
       grid:{drawOnChartArea:false,tickLength:5,tickWidth:1.5,tickColor:"#222"},ticks:{padding:0,autoSkip:false,maxRotation:0}},
    y:{min:-.053,max:1.047,afterBuildTicks:setTicks(survTicks),border:{color:"#222",width:2},
       grid:{drawOnChartArea:false,tickLength:4,tickWidth:1.5,tickColor:"#222"},ticks:{padding:4,autoSkip:false,callback:v=>v.toFixed(2)}}
  }}
});
[[1217,"#3f86bd","cluster1 (n = 174)"],[1242,"#c5282f","cluster2 (n = 124)"]].forEach(l=>{
  rect(1232,l[0]-1,24,2,l[1]);
  rect(1243,l[0]-6,2,12,l[1]);
  text(1262,l[0],l[2],{align:"l"});
});
text(1126,1444,"<i>P</i> = 0.0044",{align:"l"});
text(1126,1472,"HR = 1.56 (1.14-2.15)",{align:"l"});
text(1022,1368,"Survival probability",{rot:-90});
text(1251,1555,"Time (months)");

// ---- G
const boxPlots = [
  {plot:[132,1652,359,2033],xr:[.404,2.513],title:241,p:248,yt:[70,1828],xl:[190,306],pad:5},
  {plot:[498,1652,724,2033],xr:[.402,2.508],title:604,p:608,yt:[428,1828],xl:[561,673],pad:5},
  {plot:[856,1652,1082,2033],xr:[.399,2.511],title:972,p:973,yt:[792,1836],xl:[919,1032],pad:5},
  {plot:[1214,1652,1441,2033],xr:[.453,2.565],title:1323,p:1332,yt:[1160,1828],xl:[1273,1385],pad:3}
];
boxPlots.forEach((b,d)=>{
  const bar = (low,high,color,thick,extra)=>({
    data:[1,2].map((x,i)=>({x,y:[low[i],high[i]]})),
    backgroundColor:color,grouped:false,barThickness:thick,...extra
  });
  const medianLine = i=>({
    type:"line",data:[{x:i+1-.38,y:drugMedian[d][i]},{x:i+1+.38,y:drugMedian[d][i]}],
    borderColor:"#333",borderWidth:6,pointRadius:0,order:1
  });
  mk(b.plot,[56,16,8,44],{
    type:"bar",
    data:{datasets:[
      bar(drugLow[d],drugHigh[d],"#333",3,{order:3}),
      bar(drugQ1[d],drugQ3[d],["#29abe2","#f7931e"],81,{order:2,borderColor:"#3a3a3a",borderWidth:3,borderSkipped:false}),
      medianLine(0),
      medianLine(1)
    ]},
    options:{plugins:{frame:{color:"#555",width:2}},scales:{
      x:{type:"linear",offset:false,min:b.xr[0],max:b.xr[1],afterBuildTicks:setTicks([1,2]),border:{display:false},
         grid:{offset:false,drawOnChartArea:false,tickLength:7,tickWidth:2.5,tickColor:"#333"},
         ticks:{display:false}},
      y:{min:drugRange[d][0],max:drugRange[d][1],afterBuildTicks:setTicks(drugTicks[d]),border:{display:false},
         grid:{drawOnChartArea:false,tickLength:8,tickWidth:2.5,tickColor:"#333"},
         ticks:{padding:b.pad,autoSkip:false,callback:v=>minus(v.toFixed(1))}}
    }},
    plugins:[framePlugin]
  });
  text(b.title,1624,drugs[d]);
  text(b.p,1681,"<i>P</i> &lt; 0.001");
  text(b.yt[0],b.yt[1],"Estimated IC50",{rot:-90});
  boxLabels.forEach((l,i)=>text(b.xl[i],2054,l));
});
</script>
</body>
</html>
